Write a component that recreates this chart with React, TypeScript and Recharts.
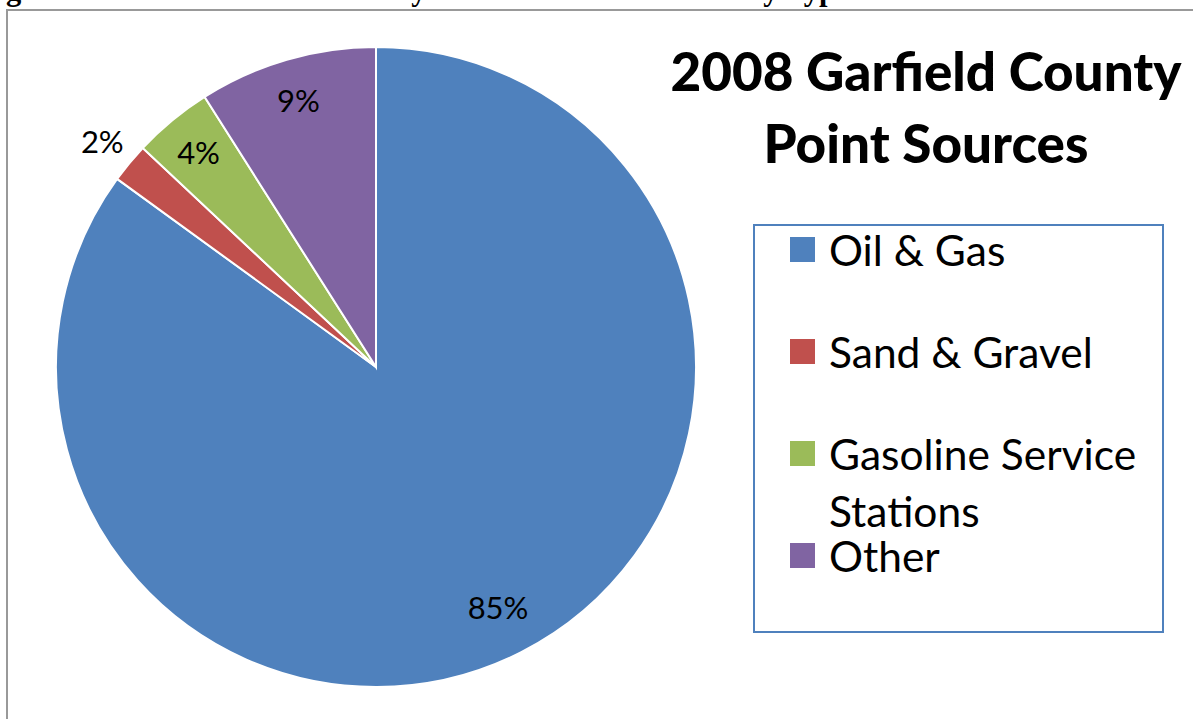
import { Pie, PieChart, Cell } from 'recharts';

const categories = ['Oil & Gas', 'Sand & Gravel', 'Gasoline Service Stations', 'Other'];
const shares = [85, 2, 4, 9];
const colors = ['#4F81BD', '#C0504D', '#9BBB59', '#8064A2'];

const chartData = categories.map((name, i) => ({ name, value: shares[i] }));

const FONT = 'Lato, "Open Sans", sans-serif';
const RAD = Math.PI / 180;

// inside slices near the rim, tiny slices just outside
const renderLabel = (props: any) => {
  const { cx, cy, midAngle, outerRadius, percent } = props;
  const small = percent < 0.03;
  const r = outerRadius * (small ? 1.11 : percent > 0.5 ? 0.84 : 0.87);
  const x = cx + r * Math.cos(-midAngle * RAD);
  const y = cy + r * Math.sin(-midAngle * RAD);
  return (
    <text x={x} y={y} textAnchor="middle" dominantBaseline="central" fill="#000"
      style={{ fontFamily: FONT, fontSize: 31 }}>
      {`${Math.round(percent * 100)}%`}
    </text>
  );
};

const LegendBox = () => (
  <div style={{
    position: 'absolute', left: 753, top: 224,
    width: 411, height: 409, border: '2px solid #4F81BD', boxSizing: 'border-box',
    fontFamily: FONT, fontSize: 42.5, color: '#000',
  }}>
    {chartData.map((d, i) => (
      <div key={d.name} style={{ position: 'absolute', left: 35, top: [11, 113, 215, 317][i], width: 360 }}>
        <span style={{
          position: 'absolute', left: 0, top: 0, width: 25, height: 25, background: colors[i],
        }} />
        <div style={{ marginLeft: 39, lineHeight: '57px', marginTop: -16 }}>{d.name}</div>
      </div>
    ))}
  </div>
);

export default function App() {
  return (
    <div style={{ position: 'fixed', left: 0, top: 0, width: 1193, height: 719, overflow: 'hidden', background: '#fff' }}>
      <div style={{
        position: 'absolute', left: -21, top: -27, whiteSpace: 'nowrap',
        fontFamily: '"Liberation Serif", serif', fontWeight: 'bold', fontSize: 30.5,
      }}>
        Figure 3.10: 2008 Garfield County Point Source Emissions by Types
      </div>
      <div style={{
        position: 'absolute', left: 6, top: 9, width: 1300, height: 800,
        border: '2px solid #999',
      }} />
      <div style={{ position: 'absolute', left: 0, top: 0 }}>
        <PieChart width={1193} height={719} margin={{ top: 0, right: 0, bottom: 0, left: 0 }}>
          <Pie
            data={chartData}
            dataKey="value"
            nameKey="name"
            cx={376}
            cy={367}
            outerRadius={320}
            startAngle={90}
            endAngle={-270}
            stroke="#fff"
            strokeWidth={2}
            label={renderLabel}
            labelLine={false}
            isAnimationActive={false}
          >
            {chartData.map((d, i) => (
              <Cell key={d.name} fill={colors[i]} />
            ))}
          </Pie>
        </PieChart>
      </div>
      <div style={{
        position: 'absolute', left: 621, top: 35, width: 610, textAlign: 'center',
        fontFamily: FONT, fontWeight: 900, fontSize: 53, lineHeight: '72px', color: '#000',
      }}>
        2008 Garfield County<br />Point Sources
      </div>
      <LegendBox />
    </div>
  );
}
